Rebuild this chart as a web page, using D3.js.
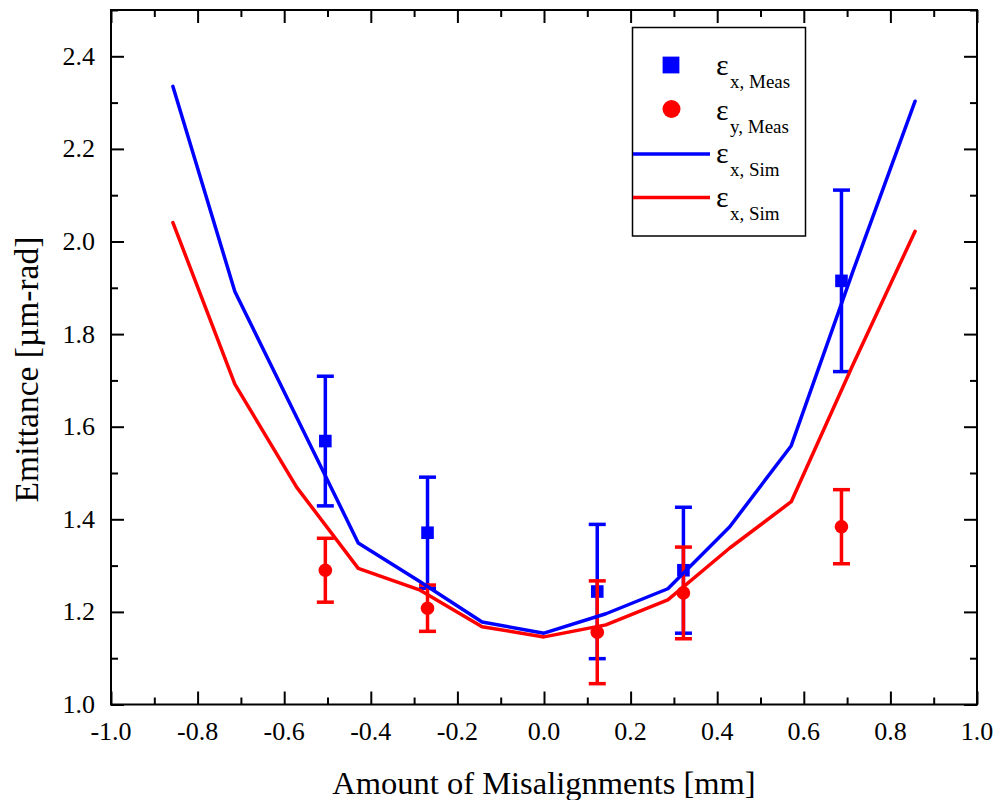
<!DOCTYPE html>
<html>
<head>
<meta charset="utf-8">
<script src="https://cdn.jsdelivr.net/npm/d3@7"></script>
<style>
  html, body { margin: 0; padding: 0; background: #fff; }
  svg { display: block; }
  text { font-family: "Liberation Serif", "Times New Roman", serif; fill: #000; }
</style>
</head>
<body>
<svg id="chart" width="996" height="800"></svg>
<script>
// Misalignment positions of the simulation runs [mm]
const simX = [-0.857, -0.714, -0.571, -0.429, -0.286, -0.143, 0.0, 0.143, 0.286, 0.429, 0.571, 0.714, 0.857];
// Simulated emittance [µm-rad]
const simEx = [2.335, 1.892, 1.620, 1.349, 1.265, 1.178, 1.154, 1.196, 1.250, 1.384, 1.559, 1.937, 2.303];
const simEy = [2.041, 1.692, 1.469, 1.294, 1.247, 1.168, 1.146, 1.172, 1.226, 1.338, 1.438, 1.735, 2.022];

// Measured points
const measX = [-0.505, -0.269, 0.123, 0.322, 0.687];
const measEx = [1.569, 1.371, 1.244, 1.290, 1.915];
const measExErr = [0.140, 0.120, 0.145, 0.136, 0.196];
const measEy = [1.290, 1.208, 1.156, 1.241, 1.384];
const measEyErr = [0.069, 0.050, 0.111, 0.099, 0.080];

// Axis ticks
const xTicks = [-1.0, -0.8, -0.6, -0.4, -0.2, 0.0, 0.2, 0.4, 0.6, 0.8, 1.0];
const xMinorTicks = [-0.9, -0.7, -0.5, -0.3, -0.1, 0.1, 0.3, 0.5, 0.7, 0.9];
const yTicks = [1.0, 1.2, 1.4, 1.6, 1.8, 2.0, 2.2, 2.4];
const yMinorTicks = [1.1, 1.3, 1.5, 1.7, 1.9, 2.1, 2.3, 2.5];

// Legend entries
const legendItems = [
  { sym: "ε", sub: "x, Meas", kind: "square", color: "#0000ff" },
  { sym: "ε", sub: "y, Meas", kind: "circle", color: "#ff0000" },
  { sym: "ε", sub: "x, Sim", kind: "line", color: "#0000ff" },
  { sym: "ε", sub: "x, Sim", kind: "line", color: "#ff0000" }
];

const BLUE = "#0000ff", RED = "#ff0000";
const svg = d3.select("#chart");
const plotLeft = 111, plotRight = 977, plotTop = 10, plotBottom = 704.5;

const x = d3.scaleLinear().domain([-1.0, 1.0]).range([plotLeft, plotRight]);
const y = d3.scaleLinear().domain([1.0, 2.5]).range([plotBottom, plotTop]);

const fmt = v => d3.format(".1f")(v).replace("\u2212", "-");

// Ticks on all four sides, pointing inward
function drawTicks(axisGen, transform, values, size) {
  const g = svg.append("g").attr("transform", transform)
    .call(axisGen.tickValues(values).tickSize(size).tickFormat(""));
  g.select(".domain").remove();
  g.selectAll(".tick line").attr("stroke", "#000").attr("stroke-width", 2);
  return g;
}
const major = 13, minor = 7;
drawTicks(d3.axisTop(x), `translate(0,${plotBottom})`, xTicks, major);
drawTicks(d3.axisTop(x), `translate(0,${plotBottom})`, xMinorTicks, minor);
drawTicks(d3.axisBottom(x), `translate(0,${plotTop})`, xTicks, major);
drawTicks(d3.axisBottom(x), `translate(0,${plotTop})`, xMinorTicks, minor);
drawTicks(d3.axisRight(y), `translate(${plotLeft},0)`, yTicks, major);
drawTicks(d3.axisRight(y), `translate(${plotLeft},0)`, yMinorTicks, minor);
drawTicks(d3.axisLeft(y), `translate(${plotRight},0)`, yTicks, major);
drawTicks(d3.axisLeft(y), `translate(${plotRight},0)`, yMinorTicks, minor);

// Frame
svg.append("rect")
  .attr("x", plotLeft).attr("y", plotTop)
  .attr("width", plotRight - plotLeft).attr("height", plotBottom - plotTop)
  .attr("fill", "none").attr("stroke", "#000").attr("stroke-width", 2);

// Tick labels
svg.append("g").selectAll("text").data(xTicks).join("text")
  .attr("x", d => x(d)).attr("y", 740)
  .attr("text-anchor", "middle").attr("font-size", 26)
  .text(fmt);
svg.append("g").selectAll("text").data(yTicks).join("text")
  .attr("x", 95).attr("y", d => y(d)).attr("dy", "0.33em")
  .attr("text-anchor", "end").attr("font-size", 26)
  .text(fmt);

// Axis titles
svg.append("text")
  .attr("x", (plotLeft + plotRight) / 2).attr("y", 794)
  .attr("text-anchor", "middle").attr("font-size", 32.5)
  .text("Amount of Misalignments [mm]");
svg.append("text")
  .attr("transform", `translate(38,369.5) rotate(-90)`)
  .attr("text-anchor", "middle").attr("font-size", 33.5)
  .text("Emittance [µm-rad]");

// Measured error bars and markers
function errorBars(vals, errs, color) {
  const g = svg.append("g").attr("stroke", color).attr("stroke-width", 3.5).attr("fill", "none");
  measX.forEach((mx, i) => {
    const cx = x(mx), y0 = y(vals[i] - errs[i]), y1 = y(vals[i] + errs[i]);
    g.append("line").attr("x1", cx).attr("x2", cx).attr("y1", y0).attr("y2", y1);
    g.append("line").attr("x1", cx - 8.5).attr("x2", cx + 8.5).attr("y1", y0).attr("y2", y0);
    g.append("line").attr("x1", cx - 8.5).attr("x2", cx + 8.5).attr("y1", y1).attr("y2", y1);
  });
}
errorBars(measEx, measExErr, BLUE);
svg.append("g").selectAll("rect").data(measX).join("rect")
  .attr("x", d => x(d) - 6.3).attr("y", (d, i) => y(measEx[i]) - 6.3)
  .attr("width", 12.6).attr("height", 12.6).attr("fill", BLUE);

errorBars(measEy, measEyErr, RED);
svg.append("g").selectAll("circle").data(measX).join("circle")
  .attr("cx", d => x(d)).attr("cy", (d, i) => y(measEy[i]))
  .attr("r", 6.8).attr("fill", RED);

// Simulation curves
const line = d3.line().x(d => x(d[0])).y(d => y(d[1]));
svg.append("path").datum(simX.map((v, i) => [v, simEx[i]]))
  .attr("d", line).attr("fill", "none").attr("stroke", BLUE)
  .attr("stroke-width", 3.5).attr("stroke-linejoin", "round").attr("stroke-linecap", "round");
svg.append("path").datum(simX.map((v, i) => [v, simEy[i]]))
  .attr("d", line).attr("fill", "none").attr("stroke", RED)
  .attr("stroke-width", 3.5).attr("stroke-linejoin", "round").attr("stroke-linecap", "round");

// Legend
const lg = svg.append("g");
lg.append("rect").attr("x", 632.5).attr("y", 27.5).attr("width", 173).attr("height", 208.5)
  .attr("fill", "#fff").attr("stroke", "#000").attr("stroke-width", 1.5);
const rowY = [65, 109, 154, 197.5];
const textY = [75, 119.5, 163, 207];
legendItems.forEach((it, i) => {
  const cy = rowY[i];
  if (it.kind === "square") {
    lg.append("rect").attr("x", 671 - 8.4).attr("y", cy - 8.4).attr("width", 16.8).attr("height", 16.8).attr("fill", it.color);
  } else if (it.kind === "circle") {
    lg.append("circle").attr("cx", 671.5).attr("cy", cy).attr("r", 9).attr("fill", it.color);
  } else {
    lg.append("line").attr("x1", 633).attr("x2", 710).attr("y1", cy).attr("y2", cy)
      .attr("stroke", it.color).attr("stroke-width", 3.5);
  }
  const t = lg.append("text").attr("x", 716).attr("y", textY[i]).attr("font-size", 30);
  t.append("tspan").text(it.sym);
  t.append("tspan").attr("x", 730).attr("y", textY[i] + 13).attr("font-size", 19).text(it.sub);
});
</script>
</body>
</html>
